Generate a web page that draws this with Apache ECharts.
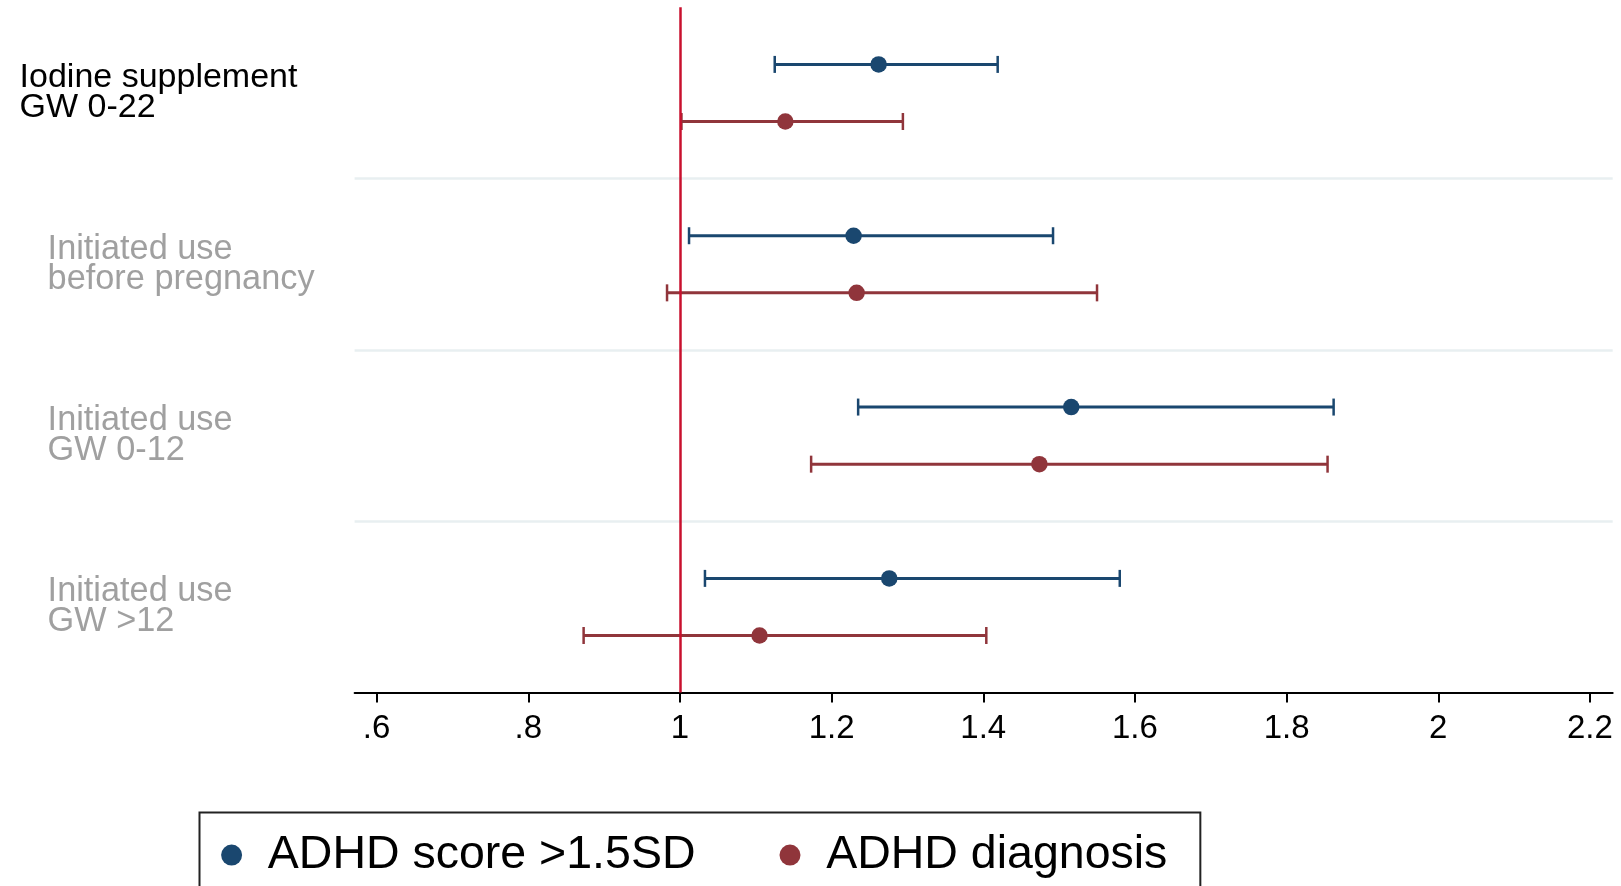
<!DOCTYPE html>
<html>
<head>
<meta charset="utf-8">
<title>Iodine supplement and ADHD</title>
<script src="https://cdn.jsdelivr.net/npm/echarts@6/dist/echarts.min.js"></script>
<style>
  html, body { margin: 0; padding: 0; background: #ffffff; }
  #chart { width: 1621px; height: 886px; }
</style>
</head>
<body>
<div id="chart"></div>
<script>
// Exposure groups, top to bottom
const groups = [
  ['Iodine supplement', 'GW 0-22'],
  ['Initiated use', 'before pregnancy'],
  ['Initiated use', 'GW 0-12'],
  ['Initiated use', 'GW >12']
];

// Outcome series names
const seriesNames = ['ADHD score >1.5SD', 'ADHD diagnosis'];

// ADHD score >1.5SD: estimate with 95% CI
const scoreEst = [1.262, 1.229, 1.516, 1.276];
const scoreLo  = [1.125, 1.012, 1.235, 1.033];
const scoreHi  = [1.419, 1.492, 1.862, 1.580];

// ADHD diagnosis: estimate with 95% CI
const diagEst = [1.139, 1.233, 1.474, 1.105];
const diagLo  = [1.002, 0.983, 1.173, 0.873];
const diagHi  = [1.294, 1.550, 1.854, 1.404];

// Reference value (null effect)
const refValue = 1;

// X axis ticks
const xTicks = [0.6, 0.8, 1, 1.2, 1.4, 1.6, 1.8, 2, 2.2];
const xTickLabels = ['.6', '.8', '1', '1.2', '1.4', '1.6', '1.8', '2', '2.2'];

const BLUE = '#1a476f';
const RED = '#90353b';
const FONT = '"Liberation Sans", Arial, sans-serif';

// each group takes 3 rows on the y scale: score row, diagnosis row, gap
const rowsPerGroup = 3;
const yMax = groups.length * rowsPerGroup;
const scoreRow = i => i * rowsPerGroup + 1;
const diagRow = i => i * rowsPerGroup + 2;
const labelRow = i => i * rowsPerGroup + 1.5;
const separators = groups.slice(1).map((g, i) => (i + 1) * rowsPerGroup);

const scorePoints = scoreEst.map((v, i) => [v, scoreRow(i)]);
const diagPoints = diagEst.map((v, i) => [v, diagRow(i)]);
const scoreCI = scoreLo.map((lo, i) => [lo, scoreHi[i], scoreRow(i)]);
const diagCI = diagLo.map((lo, i) => [lo, diagHi[i], diagRow(i)]);

const labelByRow = {};
groups.forEach((g, i) => {
  const tag = i === 0 ? 'a' : 'b';
  labelByRow[labelRow(i)] = g.map(s => '{' + tag + '|' + s + '}').join('\n');
});

function renderCI(params, api) {
  const lo = api.coord([api.value(0), api.value(2)]);
  const hi = api.coord([api.value(1), api.value(2)]);
  const color = api.visual('color');
  const cap = 8.5;
  return {
    type: 'group',
    children: [
      { type: 'line', shape: { x1: lo[0], y1: lo[1], x2: hi[0], y2: hi[1] },
        style: { stroke: color, lineWidth: 3 } },
      { type: 'line', shape: { x1: lo[0], y1: lo[1] - cap, x2: lo[0], y2: lo[1] + cap },
        style: { stroke: color, lineWidth: 2.5 } },
      { type: 'line', shape: { x1: hi[0], y1: hi[1] - cap, x2: hi[0], y2: hi[1] + cap },
        style: { stroke: color, lineWidth: 2.5 } }
    ]
  };
}

const chart = echarts.init(document.getElementById('chart'), null, { renderer: 'canvas' });

chart.setOption({
  animation: false,
  backgroundColor: '#ffffff',
  textStyle: { fontFamily: FONT },
  grid: { left: 354.6, right: 8.3, top: 7.3, bottom: 193.4, containLabel: false },
  xAxis: {
    type: 'value',
    position: 'bottom',
    min: 0.571,
    max: 2.23,
    axisLine: { show: true, onZero: false, lineStyle: { color: '#000000', width: 2 } },
    axisTick: { show: true, customValues: xTicks, length: 10, inside: false,
                lineStyle: { color: '#000000', width: 2 } },
    axisLabel: {
      customValues: xTicks,
      margin: 20,
      fontSize: 33,
      color: '#000000',
      fontFamily: FONT,
      formatter: v => {
        const k = xTicks.findIndex(t => Math.abs(t - v) < 1e-9);
        return k >= 0 ? xTickLabels[k] : '';
      }
    },
    splitLine: { show: false }
  },
  yAxis: {
    type: 'value',
    inverse: true,
    min: 0,
    max: yMax,
    interval: 1.5,
    axisLine: { show: false },
    axisTick: { show: false },
    splitLine: { show: false },
    axisLabel: {
      align: 'left',
      margin: 335,
      fontFamily: FONT,
      formatter: v => labelByRow[v] || '',
      rich: {
        a: { fontSize: 34, lineHeight: 30, color: '#000000', fontFamily: FONT },
        b: { fontSize: 34.3, lineHeight: 30, color: '#a0a0a0', fontFamily: FONT, padding: [0, 0, 0, 28] }
      }
    }
  },
  legend: {
    show: true,
    data: seriesNames.map(n => ({ name: n, icon: 'circle' })),
    left: 199.5,
    top: 812.6,
    orient: 'horizontal',
    padding: [19, 33, 40, 21.6],
    itemWidth: 62.4,
    itemHeight: 21,
    itemGap: 84,
    borderColor: '#222222',
    borderWidth: 2,
    backgroundColor: '#ffffff',
    selectedMode: false,
    textStyle: { fontSize: 46.5, color: '#000000', fontFamily: FONT }
  },
  series: [
    {
      name: 'ci-score',
      type: 'custom',
      renderItem: renderCI,
      itemStyle: { color: BLUE },
      encode: { x: [0, 1], y: 2 },
      data: scoreCI,
      z: 2,
      silent: true,
      markLine: {
        silent: true,
        symbol: 'none',
        label: { show: false },
        lineStyle: { color: '#e8eff1', width: 2.5, type: 'solid' },
        data: separators.map(s => ({ yAxis: s })),
        z: 1
      }
    },
    {
      name: 'ci-diagnosis',
      type: 'custom',
      renderItem: renderCI,
      itemStyle: { color: RED },
      encode: { x: [0, 1], y: 2 },
      data: diagCI,
      z: 2,
      silent: true
    },
    {
      name: seriesNames[0],
      type: 'scatter',
      symbol: 'circle',
      symbolSize: 16.5,
      itemStyle: { color: BLUE, opacity: 1 },
      data: scorePoints,
      z: 4
    },
    {
      name: seriesNames[1],
      type: 'scatter',
      symbol: 'circle',
      symbolSize: 16.5,
      itemStyle: { color: RED, opacity: 1 },
      data: diagPoints,
      z: 4,
      markLine: {
        silent: true,
        symbol: 'none',
        label: { show: false },
        lineStyle: { color: '#c8102e', width: 2.5, type: 'solid' },
        data: [{ xAxis: refValue }],
        z: 5
      }
    }
  ]
});
</script>
</body>
</html>
